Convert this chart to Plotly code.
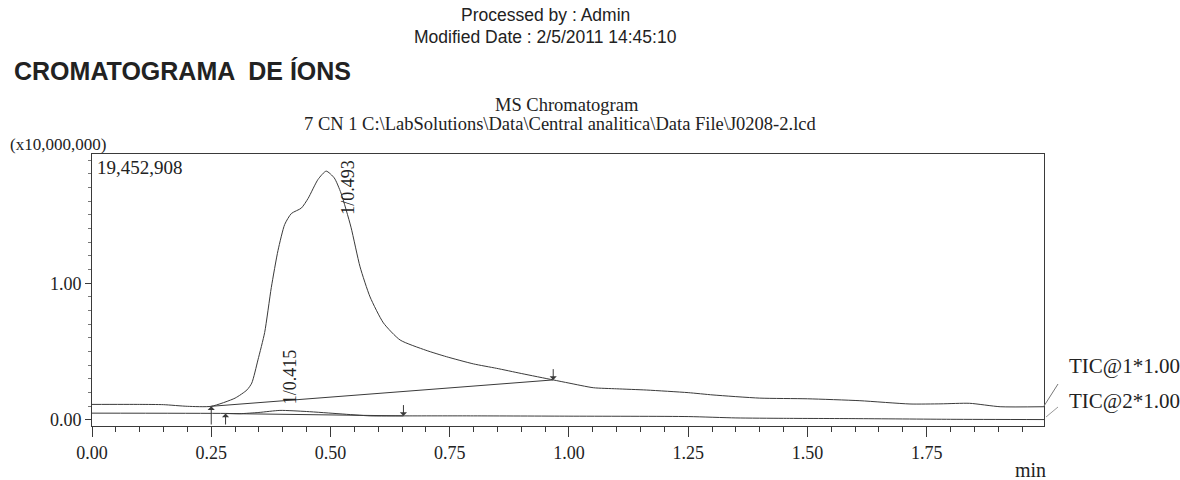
import plotly.graph_objects as go

# Retention time (min) and intensity (x10,000,000) for TIC@1
tic1_time = [0.00, 0.10, 0.15, 0.20, 0.25, 0.30, 0.325, 0.335, 0.348, 0.362, 0.376,
             0.390, 0.404, 0.418, 0.439, 0.453, 0.474, 0.491, 0.508, 0.522, 0.543,
             0.562, 0.583, 0.611, 0.646, 0.700, 0.743, 0.800, 0.848, 0.900, 0.967,
             1.000, 1.051, 1.100, 1.163, 1.250, 1.302, 1.400, 1.500, 1.610, 1.715,
             1.780, 1.840, 1.904, 1.996]
tic1_int = [0.114, 0.114, 0.112, 0.100, 0.100, 0.160, 0.220, 0.270, 0.440, 0.640, 0.970,
            1.240, 1.430, 1.510, 1.550, 1.620, 1.760, 1.820, 1.770, 1.660, 1.410,
            1.120, 0.900, 0.710, 0.585, 0.510, 0.463, 0.410, 0.378, 0.340, 0.293,
            0.270, 0.236, 0.228, 0.219, 0.200, 0.183, 0.160, 0.155, 0.141, 0.117,
            0.118, 0.122, 0.097, 0.097]

# TIC@2
tic2_time = [0.00, 0.28, 0.31, 0.35, 0.394, 0.45, 0.52, 0.583, 0.653, 0.80, 1.00,
             1.25, 1.35, 1.45, 1.60, 1.80, 1.996]
tic2_int = [0.050, 0.048, 0.046, 0.055, 0.070, 0.062, 0.045, 0.030, 0.030, 0.030, 0.028,
            0.025, 0.015, 0.012, 0.010, 0.005, 0.003]

# Integration baselines (start/end of each detected peak)
base1_time = [0.25, 0.967]
base1_int = [0.100, 0.293]
base2_time = [0.28, 0.653]
base2_int = [0.047, 0.030]

# Peak labels
peak_labels = ["1/0.415", "1/0.493"]
peak_label_time = [0.415, 0.535]
peak_label_int = [0.32, 1.70]

# Full-scale intensity shown at the top of the vertical axis
full_scale = 19452908
axis_unit = 10_000_000

x_ticks = [0.00, 0.25, 0.50, 0.75, 1.00, 1.25, 1.50, 1.75]
x_ticktext = ["0.00", "0.25", "0.50", "0.75", "1.00", "1.25", "1.50", "1.75"]
y_ticks = [0.0, 1.0]
y_ticktext = ["0.00", "1.00"]

ink = "#3a3a3a"
serif = "Liberation Serif"
sans = "Liberation Sans"

W, H = 1180, 480
L, R, T, B = 92, 136, 154, 54
pw, ph = W - L - R, H - T - B
ymax = full_scale / axis_unit
ymin = -0.044

fig = go.Figure()
line = dict(color=ink, width=1, shape="spline", smoothing=0.6)
fig.add_trace(go.Scatter(x=tic1_time, y=tic1_int, mode="lines", line=line, name="TIC@1"))
fig.add_trace(go.Scatter(x=tic2_time, y=tic2_int, mode="lines", line=line, name="TIC@2"))
fig.add_trace(go.Scatter(x=base1_time, y=base1_int, mode="lines",
                         line=dict(color=ink, width=1), name="baseline 1"))
fig.add_trace(go.Scatter(x=base2_time, y=base2_int, mode="lines",
                         line=dict(color=ink, width=1), name="baseline 2"))

# Peak start (up) and end (down) markers
starts = [(base1_time[0], base1_int[0]), (base2_time[0], base2_int[0])]
ends = [(base1_time[1], base1_int[1]), (base2_time[1], base2_int[1])]
for t, v in starts:
    fig.add_annotation(x=t, y=v, ax=t, ay=ymin, xref="x", yref="y", axref="x", ayref="y",
                       showarrow=True, arrowhead=1, arrowsize=1.2, arrowwidth=1,
                       arrowcolor=ink, text="")
for t, v in ends:
    fig.add_annotation(x=t, y=v, ax=t, ay=v + 0.09, xref="x", yref="y", axref="x", ayref="y",
                       showarrow=True, arrowhead=1, arrowsize=1.2, arrowwidth=1,
                       arrowcolor=ink, text="")

for lbl, t, v in zip(peak_labels, peak_label_time, peak_label_int):
    fig.add_annotation(x=t, y=v, text=lbl, textangle=-90, showarrow=False,
                       font=dict(family=serif, size=18, color="#222"))


def px(x):
    return (x - L) / pw


def py(y):
    return (H - B - y) / ph


def text_at(s, x, y, family, size, xanchor="center", weight="normal", color="#222"):
    fig.add_annotation(x=px(x), y=py(y), xref="paper", yref="paper", text=s,
                       showarrow=False, xanchor=xanchor, yanchor="middle",
                       font=dict(family=family, size=size, color=color, weight=weight))


text_at("Processed by : Admin", 545, 15, sans, 17.5)
text_at("Modified Date : 2/5/2011 14:45:10", 545, 37, sans, 17.5)
text_at("CROMATOGRAMA  DE ÍONS", 12, 71, sans, 25, xanchor="left", weight="bold")
text_at("MS Chromatogram", 567, 105, serif, 18.5)
text_at("7 CN 1 C:\\LabSolutions\\Data\\Central analitica\\Data File\\J0208-2.lcd",
        560, 124, serif, 18.5)
text_at("(x10,000,000)", 8, 145, serif, 17, xanchor="left")
text_at(f"{full_scale:,}", 95, 167, serif, 19, xanchor="left")
text_at("min", 1030, 470, serif, 20)
text_at("TIC@1*1.00", 1067, 366, serif, 21, xanchor="left")
text_at("TIC@2*1.00", 1067, 401, serif, 21, xanchor="left")

# Leader lines from trace ends to the channel labels
fig.add_shape(type="line", xref="paper", yref="paper", x0=px(1044), y0=py(406),
              x1=px(1058), y1=py(384), line=dict(color="#777", width=1))
fig.add_shape(type="line", xref="paper", yref="paper", x0=px(1046), y0=py(417),
              x1=px(1058), y1=py(407), line=dict(color="#999", width=1))

fig.update_xaxes(range=[0, 1.996], tickvals=x_ticks, ticktext=x_ticktext,
                 ticks="outside", ticklen=10, tickwidth=1, tickcolor=ink,
                 minor=dict(tickmode="linear", tick0=0, dtick=0.05, ticks="outside",
                            ticklen=5, tickcolor=ink),
                 showline=True, linecolor=ink, linewidth=1, mirror=True,
                 showgrid=False, zeroline=False,
                 tickfont=dict(family=serif, size=18, color="#222"))
fig.update_yaxes(range=[ymin, ymax], tickvals=y_ticks, ticktext=y_ticktext,
                 ticks="outside", ticklen=6, tickwidth=1, tickcolor=ink,
                 minor=dict(tickmode="linear", tick0=0, dtick=0.1, ticks="outside",
                            ticklen=3, tickcolor="#777"),
                 showline=True, linecolor=ink, linewidth=1, mirror=True,
                 showgrid=False, zeroline=False,
                 tickfont=dict(family=serif, size=18, color="#222"))

fig.update_layout(width=W, height=H, margin=dict(l=L, r=R, t=T, b=B),
                  paper_bgcolor="white", plot_bgcolor="white", showlegend=False)

fig.write_html("out.html")
